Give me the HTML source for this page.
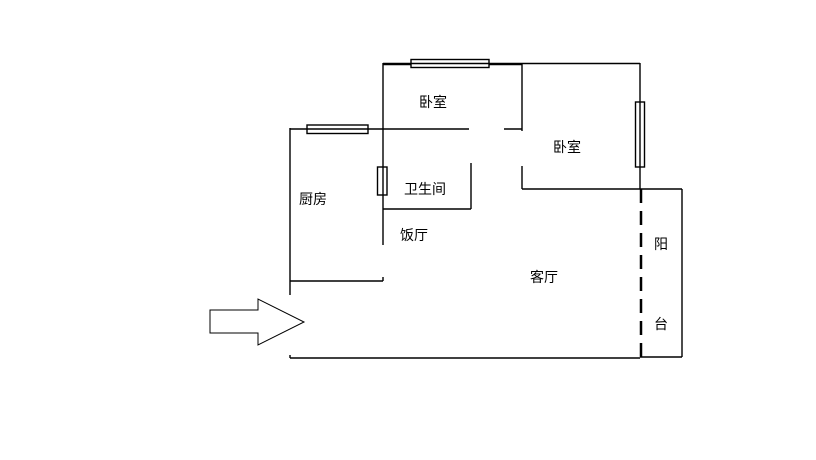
<!DOCTYPE html>
<html><head><meta charset="utf-8"><style>
html,body{margin:0;padding:0;background:#fff;}
svg{display:block;}
text{font-family:"Liberation Sans","Noto Sans CJK SC",sans-serif;font-size:14px;fill:#000;}
</style></head><body>
<svg width="816" height="460" viewBox="0 0 816 460" xmlns="http://www.w3.org/2000/svg">
<g stroke="#000" stroke-width="1.4" fill="none">
<line x1="383" y1="63.5" x2="640" y2="63.5"/>
<line x1="383" y1="64.5" x2="522" y2="64.5"/>
<line x1="383" y1="63" x2="383" y2="245"/>
<line x1="290" y1="128" x2="290" y2="295"/>
<line x1="290" y1="129" x2="469" y2="129"/>
<line x1="504" y1="129" x2="522" y2="129"/>
<line x1="522" y1="63" x2="522" y2="131"/>
<line x1="522" y1="166" x2="522" y2="189"/>
<line x1="522" y1="189" x2="682" y2="189"/>
<line x1="640" y1="63" x2="640" y2="189"/>
<line x1="682" y1="189" x2="682" y2="357"/>
<line x1="640" y1="357" x2="682" y2="357"/>
<line x1="471" y1="163" x2="471" y2="209"/>
<line x1="383" y1="209" x2="471" y2="209"/>
<line x1="290" y1="281" x2="383" y2="281"/>
<line x1="383" y1="277" x2="383" y2="281"/>
<line x1="290" y1="355" x2="290" y2="358"/>
<line x1="290" y1="358" x2="640" y2="358"/>
<line x1="641" y1="189" x2="641" y2="358" stroke-width="2.5" stroke-dasharray="14,8"/>
<rect x="411" y="59.5" width="78" height="8" fill="#fff"/>
<line x1="411" y1="63.5" x2="489" y2="63.5"/>
<rect x="307" y="125" width="61" height="8.5" fill="#fff"/>
<line x1="307" y1="129" x2="368" y2="129"/>
<rect x="377.5" y="167" width="9.5" height="28" fill="#fff"/>
<line x1="383" y1="167" x2="383" y2="195"/>
<rect x="635.5" y="102" width="9" height="65" fill="#fff"/>
<line x1="640" y1="102" x2="640" y2="167"/>
<polygon points="210,310 258,310 258,299 304,322 258,345 258,333 210,333" stroke-width="1"/>
</g>
<text x="433" y="107" text-anchor="middle">卧室</text>
<text x="567" y="152" text-anchor="middle">卧室</text>
<text x="425" y="194" text-anchor="middle">卫生间</text>
<text x="313" y="204" text-anchor="middle">厨房</text>
<text x="414" y="240" text-anchor="middle">饭厅</text>
<text x="544" y="282" text-anchor="middle">客厅</text>
<text x="661" y="249" text-anchor="middle">阳</text>
<text x="661" y="329" text-anchor="middle">台</text>
</svg>
</body></html>
